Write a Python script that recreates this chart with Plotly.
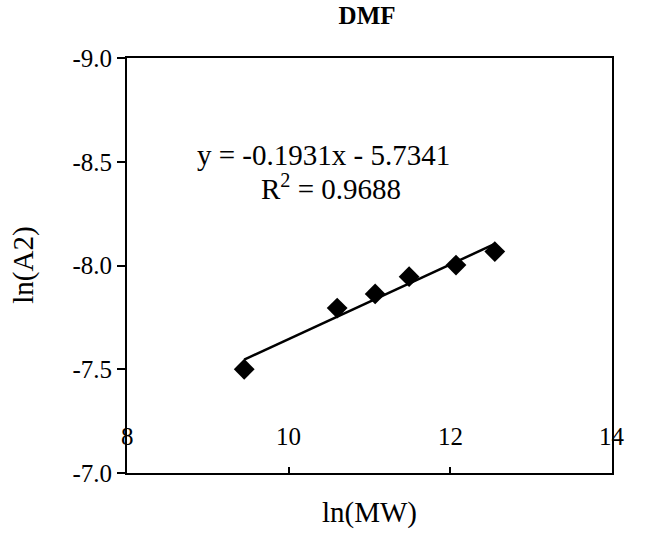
import plotly.graph_objects as go
import numpy as np

# Data
ln_mw = [9.45, 10.60, 11.07, 11.49, 12.07, 12.55]
ln_a2 = [-7.50, -7.795, -7.863, -7.946, -8.002, -8.067]

x_ticks = [8, 10, 12, 14]
x_ticktext = ["8", "10", "12", "14"]
y_ticks = [-9.0, -8.5, -8.0, -7.5, -7.0]
y_ticktext = ["-9.0", "-8.5", "-8.0", "-7.5", "-7.0"]

# Linear trendline (least squares through the points)
coef = np.polyfit(ln_mw, ln_a2, 1)
x_fit = [min(ln_mw), max(ln_mw)]
y_fit = [coef[0] * v + coef[1] for v in x_fit]

FONT = "Liberation Serif"

fig = go.Figure()
fig.add_trace(go.Scatter(x=x_fit, y=y_fit, mode="lines",
                         line=dict(color="black", width=2.5), showlegend=False,
                         hoverinfo="skip"))
fig.add_trace(go.Scatter(x=ln_mw, y=ln_a2, mode="markers",
                         marker=dict(symbol="diamond", size=16, color="black"),
                         showlegend=False))

annotations = []
for v, t in zip(x_ticks, x_ticktext):
    annotations.append(dict(x=v, y=0.087, xref="x", yref="paper", text=t,
                            showarrow=False, font=dict(family=FONT, size=25, color="black"),
                            xanchor="center", yanchor="middle"))
annotations.append(dict(x=0.406, y=0.766, xref="paper", yref="paper",
                        text="y = -0.1931x - 5.7341", showarrow=False,
                        xanchor="center", yanchor="middle",
                        font=dict(family=FONT, size=29, color="black")))
annotations.append(dict(x=0.42, y=0.689, xref="paper", yref="paper",
                        text="R<sup>2</sup> = 0.9688", showarrow=False,
                        xanchor="center", yanchor="middle",
                        font=dict(family=FONT, size=29, color="black")))
annotations.append(dict(x=0.5, y=-0.094, xref="paper", yref="paper",
                        text="ln(MW)", showarrow=False,
                        xanchor="center", yanchor="middle",
                        font=dict(family=FONT, size=29, color="black")))
annotations.append(dict(x=-0.214, y=0.5, xref="paper", yref="paper",
                        text="ln(A2)", showarrow=False, textangle=-90,
                        xanchor="center", yanchor="middle",
                        font=dict(family=FONT, size=29, color="black")))

fig.update_layout(
    width=652, height=542,
    margin=dict(l=127, r=40, t=58, b=69),
    paper_bgcolor="white", plot_bgcolor="white",
    title=dict(text="<b>DMF</b>", x=0.563, xanchor="center", y=0.971, yanchor="middle",
               font=dict(family=FONT, size=25, color="black")),
    font=dict(family=FONT, color="black"),
    annotations=annotations,
)
fig.update_xaxes(range=[8, 14], tickvals=x_ticks, showticklabels=False,
                 ticks="inside", ticklen=6, tickwidth=2, tickcolor="black",
                 showline=True, linecolor="black", linewidth=2, mirror=True,
                 showgrid=False, zeroline=False)
fig.update_yaxes(range=[-7, -9], tickvals=y_ticks, ticktext=y_ticktext,
                 ticks="outside", ticklen=8, tickwidth=2, tickcolor="black",
                 tickfont=dict(family=FONT, size=25),
                 showline=True, linecolor="black", linewidth=2, mirror=True,
                 showgrid=False, zeroline=False)

fig.write_html("out.html")
